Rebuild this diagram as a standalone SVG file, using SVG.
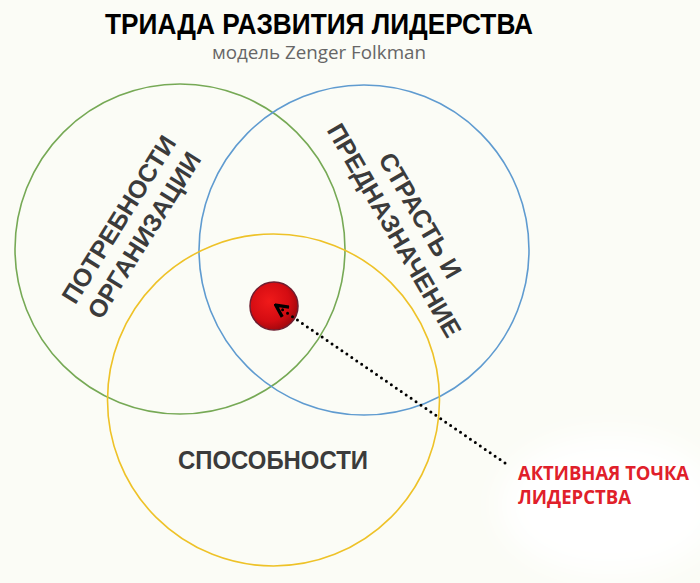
<svg xmlns="http://www.w3.org/2000/svg" width="700" height="583" viewBox="0 0 700 583">
<defs>
<style>
.ring{fill:none;stroke-width:1.6}
.lbl{font-family:"Liberation Sans",Arial,sans-serif;font-weight:bold;font-size:25px;fill:#3b3b3b;text-anchor:middle}
.red{font-family:"Open Sans","Noto Sans",sans-serif;font-weight:bold;font-size:19px;fill:#e0202a}
</style>
<radialGradient id="dot" cx="0.4" cy="0.4" r="0.6">
<stop offset="0" stop-color="#f01a1a"/>
<stop offset="0.7" stop-color="#d40c12"/>
<stop offset="1" stop-color="#a8080e"/>
</radialGradient>
<filter id="soft" filterUnits="userSpaceOnUse" x="400" y="380" width="320" height="220"><feGaussianBlur stdDeviation="14"/></filter>
<marker id="arr" viewBox="0 0 10 10" refX="8" refY="5" markerWidth="5" markerHeight="5" orient="auto-start-reverse">
<path d="M1,1 L9,5 L1,9" fill="none" stroke="#000" stroke-width="2.2"/>
</marker>
</defs>
<rect width="700" height="583" fill="#fbfcf6"/>
<ellipse cx="610" cy="505" rx="110" ry="70" fill="#ffffff" filter="url(#soft)"/>
<g id="title">
<text x="319" y="34" font-family="Liberation Sans,Arial,sans-serif" font-weight="bold" font-size="29" fill="#000" text-anchor="middle" textLength="428" lengthAdjust="spacingAndGlyphs">ТРИАДА РАЗВИТИЯ ЛИДЕРСТВА</text>
<text x="319" y="59" font-family="Open Sans,Noto Sans,sans-serif" font-size="18" fill="#666" text-anchor="middle" textLength="214" lengthAdjust="spacingAndGlyphs">модель Zenger Folkman</text>
</g>
<g id="circle-organization">
<circle class="ring" cx="180" cy="249" r="165" stroke="#76a955"/>
<g transform="translate(118,219) rotate(-58)">
<text class="lbl" x="0" y="9.5">ПОТРЕБНОСТИ</text>
<text class="lbl" x="0" y="39.5">ОРГАНИЗАЦИИ</text>
</g>
</g>
<g id="circle-passion">
<circle class="ring" cx="364" cy="250" r="165" stroke="#5f9bd0"/>
<g transform="translate(421,215) rotate(60)">
<text class="lbl" x="0" y="9.5">СТРАСТЬ И</text>
<text class="lbl" x="0" y="39.5">ПРЕДНАЗНАЧЕНИЕ</text>
</g>
</g>
<g id="circle-abilities">
<circle class="ring" cx="273.5" cy="400" r="166" stroke="#eec228"/>
<text class="lbl" x="273" y="469" font-size="23" textLength="190" lengthAdjust="spacingAndGlyphs">СПОСОБНОСТИ</text>
</g>
<g id="leadership-point">
<circle cx="274" cy="306" r="24" fill="url(#dot)" stroke="#6e1e30" stroke-width="1.5"/>
</g>
<g id="connectors">
<line x1="505" y1="463" x2="277" y2="306" stroke="#000" stroke-width="3" stroke-linecap="round" stroke-dasharray="0 6" marker-end="url(#arr)"/>
</g>
<g id="label-active">
<text class="red" x="518" y="480" textLength="171" lengthAdjust="spacingAndGlyphs">АКТИВНАЯ ТОЧКА</text>
<text class="red" x="518" y="504" textLength="113" lengthAdjust="spacingAndGlyphs">ЛИДЕРСТВА</text>
</g>
</svg>
